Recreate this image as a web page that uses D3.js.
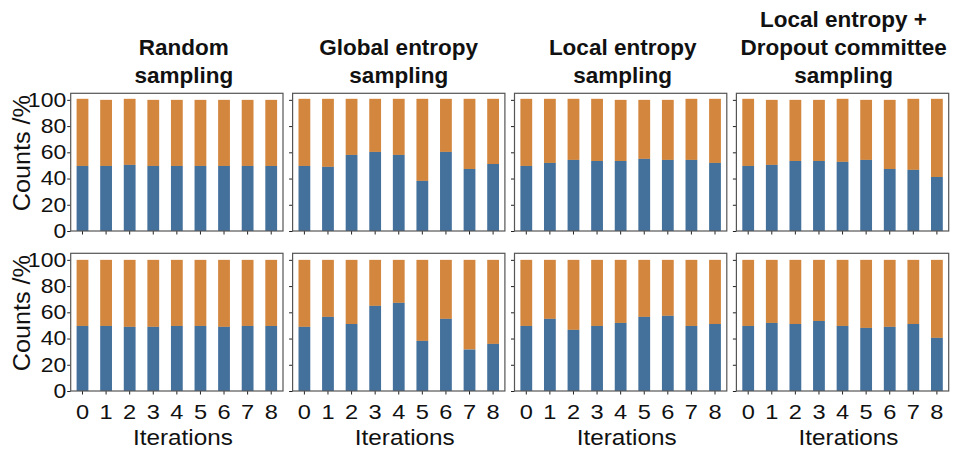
<!DOCTYPE html>
<html>
<head>
<meta charset="utf-8">
<script src="https://cdn.jsdelivr.net/npm/d3@7"></script>
<style>
  body { margin: 0; background: #fff; }
  text { font-family: "Liberation Sans", Arial, sans-serif; fill: #111; }
</style>
</head>
<body>
<svg id="chart"></svg>
<script>
// Iterations on the x axis
const iterations = [0, 1, 2, 3, 4, 5, 6, 7, 8];
const yTicks = [0, 20, 40, 60, 80, 100];

const titles = [
  ["Random", "sampling"],
  ["Global entropy", "sampling"],
  ["Local entropy", "sampling"],
  ["Local entropy +", "Dropout committee", "sampling"]
];

// blue share (%) and bar total (%) per method, top row
const blueTop = [
  [49.6, 49.6, 50.4, 49.6, 49.6, 49.6, 49.6, 49.6, 49.6],
  [49.6, 48.9, 58.0, 60.3, 58.0, 38.2, 60.3, 47.3, 51.1],
  [49.6, 51.9, 54.2, 53.4, 53.4, 55.0, 54.2, 54.2, 51.9],
  [49.6, 50.4, 53.4, 53.4, 52.7, 54.2, 47.3, 46.6, 41.2]
];
const totalTop = [
  [100.8, 100, 100.8, 100, 100, 100, 100, 100, 100],
  [100.8, 100.8, 100.8, 100.8, 100.8, 100.8, 100.8, 100.8, 100.8],
  [100.8, 100.8, 100.8, 100.8, 100, 100, 100, 100.8, 100.8],
  [100.8, 100, 100, 100, 100.8, 100, 100, 100.8, 100.8]
];

// bottom row, every bar sums to 100
const blueBottom = [
  [49.6, 49.6, 48.9, 48.9, 49.6, 49.6, 48.9, 49.6, 49.6],
  [48.9, 56.5, 51.1, 64.9, 67.2, 38.2, 55.0, 31.6, 35.9],
  [49.6, 55.0, 46.6, 49.6, 51.9, 56.5, 57.3, 49.6, 51.1],
  [49.6, 51.9, 51.1, 53.4, 49.6, 48.1, 48.9, 51.1, 40.5]
];
const totalBottom = [
  [100, 100, 100, 100, 100, 100, 100, 100, 100],
  [100, 100, 100, 100, 100, 100, 100, 100, 100],
  [100, 100, 100, 100, 100, 100, 100, 100, 100],
  [100, 100, 100, 100, 100, 100, 100, 100, 100]
];

const blue = "#44719c", orange = "#d3863d";

const W = 954, H = 457;
const panelW = 212.3, panelH = 137.7;
const panelLeft = i => 70.7 + i * 221.9;
const rowTop = [93.3, 253.3];
const titleDx = [7, 0, 2, 1];

const svg = d3.select("#chart").attr("width", W).attr("height", H);

const x = d3.scaleBand().domain(iterations).range([0, panelW])
    .paddingInner(0.5).paddingOuter(0.25);
const y = d3.scaleLinear().domain([0, 105]).range([panelH, 0]);

// stretch text horizontally a bit, the reference font runs wide
function stretch(sel, k) {
  sel.each(function() {
    const t = d3.select(this);
    const x0 = +(t.attr("x") || 0);
    t.attr("x", x0 / k).attr("transform", `scale(${k},1)`);
  });
}

const rows = [[blueTop, totalTop], [blueBottom, totalBottom]];

rows.forEach(([blues, totals], r) => {
  blues.forEach((b, p) => {
    const g = svg.append("g")
        .attr("transform", `translate(${panelLeft(p)},${rowTop[r]})`);
    const data = iterations.map((it, i) => ({ it, b: b[i], t: totals[p][i] }));

    g.selectAll(".orange").data(data).enter().append("rect")
        .attr("x", d => x(d.it))
        .attr("width", x.bandwidth())
        .attr("y", d => y(d.t))
        .attr("height", d => y(d.b) - y(d.t))
        .attr("fill", orange);

    g.selectAll(".blue").data(data).enter().append("rect")
        .attr("x", d => x(d.it))
        .attr("width", x.bandwidth())
        .attr("y", d => y(d.b))
        .attr("height", d => y(0) - y(d.b))
        .attr("fill", blue);

    // y axis
    const ya = g.append("g")
        .call(d3.axisLeft(y).tickValues(yTicks).tickSize(3.5).tickPadding(1)
          .tickFormat(p === 0 ? d3.format("d") : ""));
    ya.select(".domain").remove();
    ya.selectAll("line").attr("stroke", "#222");
    ya.selectAll("text").attr("font-size", 20);
    stretch(ya.selectAll("text"), 1.15);

    // x axis
    const xa = g.append("g")
        .attr("transform", `translate(0,${panelH})`)
        .call(d3.axisBottom(x).tickSize(3.5).tickPadding(r === 1 ? 10 : 0)
          .tickFormat(r === 1 ? d => d : ""));
    xa.select(".domain").remove();
    xa.selectAll("line").attr("stroke", "#222");
    xa.selectAll("text").attr("font-size", 20);
    stretch(xa.selectAll("text"), 1.18);

    // frame
    g.append("rect")
        .attr("width", panelW).attr("height", panelH)
        .attr("fill", "none").attr("stroke", "#555").attr("stroke-width", 1.2);

    if (r === 0) {
      const lines = titles[p];
      const tt = svg.append("text")
          .attr("text-anchor", "middle")
          .attr("font-size", 22.5)
          .attr("font-weight", "bold");
      lines.forEach((s, k) => {
        tt.append("tspan")
            .attr("x", panelLeft(p) + panelW / 2 + titleDx[p])
            .attr("y", 83 - (lines.length - 1 - k) * 28)
            .text(s);
      });
    } else {
      svg.append("text")
          .attr("text-anchor", "middle")
          .attr("font-size", 21.5)
          .attr("transform", `translate(${panelLeft(p) + panelW / 2 + 6},445) scale(1.13,1)`)
          .text("Iterations");
    }

    if (p === 0) {
      svg.append("text")
          .attr("text-anchor", "middle")
          .attr("font-size", 24)
          .attr("transform", `translate(29.5,${rowTop[r] + panelH / 2 - 9}) rotate(-90) scale(1.05,1)`)
          .text("Counts /%");
    }
  });
});
</script>
</body>
</html>
